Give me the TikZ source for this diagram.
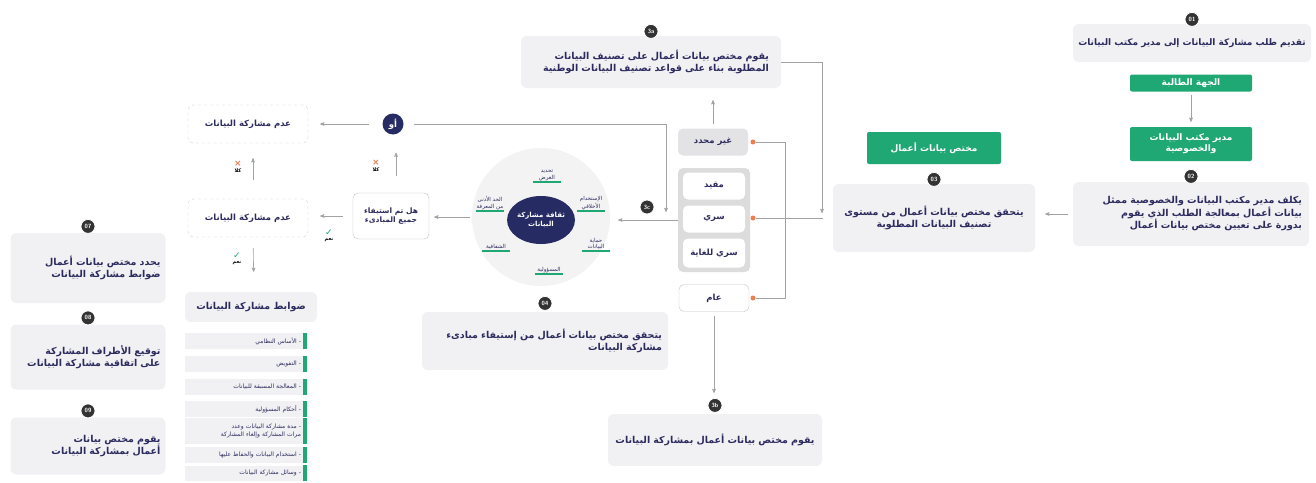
\documentclass[tikz,border=0pt]{standalone}
\usepackage{fontspec}
\usepackage{tikz}
\usetikzlibrary{arrows, positioning, shapes.geometric}
\usepackage{color}
\newfontfamily\arabicfont[Script=Arabic]{DejaVu Sans}
\newfontfamily\symbolfont{DejaVu Sans}
\TeXXeTstate=1
\newcommand{\artext}[1]{\beginR #1\endR}
\definecolor{navy}{HTML}{2C2B5E}
\definecolor{hubnavy}{HTML}{262B64}
\definecolor{boxgray}{HTML}{F1F1F3}
\definecolor{groupgray}{HTML}{DCDCDC}
\definecolor{undefgray}{HTML}{E3E3E5}
\definecolor{ringgray}{HTML}{F3F3F3}
\definecolor{linegray}{HTML}{A3A3A3}
\definecolor{badgegray}{HTML}{333333}
\definecolor{okgreen}{HTML}{1FA774}
\definecolor{dotorange}{HTML}{EC8150}

\begin{document}
\begin{tikzpicture}[->,>=stealth',x=1pt,y=-1pt,
 stepbox/.style={rectangle,rounded corners=6pt,fill=boxgray,text=navy,align=center,inner sep=6pt,
  font=\arabicfont\bfseries\fontsize{9.5}{12.5}\selectfont},
 greenbox/.style={rectangle,rounded corners=2pt,fill=okgreen,text=white,align=center,inner sep=2pt,
  font=\arabicfont\bfseries\fontsize{9}{11}\selectfont},
 badge/.style={circle,fill=badgegray,draw=white,line width=0.8pt,text=white,inner sep=0pt,minimum size=14pt,
  font=\sffamily\bfseries\fontsize{6}{6}\selectfont},
 classbox/.style={rectangle,rounded corners=5pt,minimum width=62pt,minimum height=27pt,inner sep=1pt,text=navy,
  font=\arabicfont\bfseries\fontsize{8.5}{10}\selectfont},
 dashbox/.style={rectangle,rounded corners=5pt,draw=gray!40,dashed,fill=white,minimum width=120pt,minimum height=38pt,
  text=navy,font=\arabicfont\bfseries\fontsize{8.5}{10}\selectfont},
 itembox/.style={rectangle,fill=boxgray,text=navy,align=right,text width=110pt,inner xsep=6pt,inner ysep=1pt,
  minimum height=16pt,font=\arabicfont\fontsize{6}{7.5}\selectfont},
 hublabel/.style={align=center,inner sep=1pt,minimum width=28pt,text=navy,font=\arabicfont\fontsize{5.5}{6.5}\selectfont,
  append after command={(\tikzlastnode.south west) edge[-,draw=okgreen,line width=1.4pt] (\tikzlastnode.south east)}},
 marklabel/.style={align=center,inner sep=0pt,text=black,font=\arabicfont\bfseries\fontsize{5}{5.5}\selectfont},
 dot/.style={circle,fill=dotorange,inner sep=0pt,minimum size=5pt},
 conn/.style={draw=linegray,line width=0.6pt},
 plain/.style={-,draw=linegray,line width=0.6pt}]

 \useasboundingbox[fill=white] (0,0) rectangle (1316,482);

 % steps 01 and 02
 \node[stepbox,text width=238pt,inner xsep=0pt,minimum height=38pt,
  font=\arabicfont\bfseries\fontsize{9}{11}\selectfont] (s01) at (1192,43)
  {\artext{تقديم طلب مشاركة البيانات إلى مدير مكتب البيانات}};
 \node[badge,above=-3pt of s01] (b01) {01};
 \node[greenbox,minimum width=122pt,minimum height=17pt] (req) at (1191,83) {\artext{الجهة الطالبة}};
 \node[greenbox,minimum width=122pt,minimum height=34pt] (dpo) at (1191,144)
  {\artext{مدير مكتب البيانات}\\\artext{والخصوصية}};
 \node[stepbox,text width=222pt,align=right,inner xsep=7pt,minimum height=64pt] (s02) at (1191,214)
  {\artext{يكلف مدير مكتب البيانات والخصوصية ممثل}\\
   \artext{بيانات أعمال بمعالجة الطلب الذي يقوم}\\
   \artext{بدورة على تعيين مختص بيانات أعمال}};
 \node[badge,above=-2pt of s02] (b02) {02};

 % step 03
 \node[greenbox,minimum width=134pt,minimum height=32pt] (analyst) at (934,148) {\artext{مختص بيانات أعمال}};
 \node[stepbox,text width=192pt,inner xsep=5pt,minimum height=68pt] (s03) at (934,218)
  {\artext{يتحقق مختص بيانات أعمال من مستوى}\\\artext{تصنيف البيانات المطلوبة}};
 \node[badge,above=-3pt of s03] (b03) {03};

 % classification levels
 \node[stepbox,text width=236pt,align=right,inner xsep=12pt,minimum height=52pt] (s3a) at (651,62)
  {\artext{يقوم مختص بيانات أعمال على تصنيف البيانات}\\\artext{المطلوبة بناء على قواعد تصنيف البيانات الوطنية}};
 \node[badge,above=-3pt of s3a] (b3a) {3a};
 \node[classbox,fill=undefgray,minimum width=70pt] (undef) at (713,142) {\artext{غير محدد}};
 \node[rectangle,rounded corners=5pt,fill=groupgray,minimum width=72pt,minimum height=104pt] (grp) at (714,220) {};
 \node[classbox,fill=white] (c1) at (714,186) {\artext{مقيد}};
 \node[classbox,fill=white] (c2) at (714,219) {\artext{سري}};
 \node[classbox,fill=white,minimum height=29pt] (c3) at (714,253) {\artext{سري للغاية}};
 \node[classbox,fill=white,draw=gray!45,minimum width=70pt] (pub) at (714,298) {\artext{عام}};
 \node[dot] (d1) at (753,142) {};
 \node[dot] (d2) at (753,218) {};
 \node[dot] (d3) at (753,298) {};
 \coordinate (jx) at (785,0);
 \coordinate (k3a) at (822,213);

 \node[stepbox,text width=206pt,inner xsep=4pt,minimum height=52pt] (s3b) at (715,440)
  {\artext{يقوم مختص بيانات أعمال بمشاركة البيانات}};
 \node[badge,above=1pt of s3b] (b3b) {3b};

 % culture hub
 \node[circle,fill=ringgray,minimum size=138pt] (ring) at (541,217) {};
 \node[ellipse,fill=hubnavy,minimum width=56pt,minimum height=48pt,inner sep=0pt,text=white,align=center,
  font=\arabicfont\bfseries\fontsize{7}{8.5}\selectfont] (hub) at (541,220)
  {\artext{ثقافة مشاركة}\\\artext{البيانات}};
 \node[hublabel,anchor=south] (p1) at (547,182) {\artext{تحديد}\\\artext{الغرض}};
 \node[hublabel,anchor=south] (p2) at (591,211) {\artext{الإستخدام}\\\artext{الأخلاقي}};
 \node[hublabel,anchor=south] (p3) at (596,251) {\artext{حماية}\\\artext{البيانات}};
 \node[hublabel,anchor=south] (p4) at (549,274) {\artext{المسؤولية}};
 \node[hublabel,anchor=south] (p5) at (496,251) {\artext{الشفافية}};
 \node[hublabel,anchor=south] (p6) at (490,211) {\artext{الحد الأدنى}\\\artext{من المعرفة}};
 \node[badge] (b3c) at (647,207) {3c};

 \node[stepbox,text width=234pt,align=right,minimum height=58pt] (s04) at (545,341)
  {\artext{يتحقق مختص بيانات أعمال من إستيفاء مبادىء}\\\artext{مشاركة البيانات}};
 \node[badge,above=1pt of s04] (b04) {04};

 % decision
 \node[rectangle,rounded corners=5pt,fill=white,draw=gray!50,minimum width=76pt,minimum height=46pt,align=center,
  text=navy,font=\arabicfont\bfseries\fontsize{7.5}{9.5}\selectfont] (chk) at (391,216)
  {\artext{هل تم استيفاء}\\\artext{جميع المبادىء}};
 \node[circle,fill=hubnavy,minimum size=21pt,inner sep=0pt,text=white,
  font=\arabicfont\bfseries\fontsize{8.5}{8.5}\selectfont] (orc) at (393,124) {\artext{أو}};
 \node[dashbox] (no1) at (248,124) {\artext{عدم مشاركة البيانات}};
 \node[dashbox] (no2) at (248,218) {\artext{عدم مشاركة البيانات}};
 \node[marklabel] (m1) at (376,166) {{\symbolfont\color{dotorange}\fontsize{9}{9}\selectfont ×}\\\artext{كلا}};
 \node[marklabel] (m2) at (238,167) {{\symbolfont\color{dotorange}\fontsize{9}{9}\selectfont ×}\\\artext{كلا}};
 \node[marklabel] (m3) at (329,236) {{\symbolfont\color{okgreen}\fontsize{9}{9}\selectfont ✓}\\\artext{نعم}};
 \node[marklabel] (m4) at (237,259) {{\symbolfont\color{okgreen}\fontsize{9}{9}\selectfont ✓}\\\artext{نعم}};

 % sharing controls
 \node[stepbox,minimum width=132pt,minimum height=30pt,inner sep=2pt] (rules) at (251,307)
  {\artext{ضوابط مشاركة البيانات}};
 \node[itembox] (r1) at (246,341) {\artext{- الأساس النظامي}};
 \node[itembox] (r2) at (246,364) {\artext{- التفويض}};
 \node[itembox] (r3) at (246,387) {\artext{- المعالجة المسبقة للبيانات}};
 \node[itembox] (r4) at (246,409) {\artext{- أحكام المسؤولية}};
 \node[itembox,minimum height=26pt] (r5) at (246,431)
  {\artext{- مدة مشاركة البيانات وعدد}\\\artext{مرات المشاركة وإلغاء المشاركة}};
 \node[itembox] (r6) at (246,455) {\artext{- استخدام البيانات والحفاظ عليها}};
 \node[itembox,minimum height=15pt] (r7) at (246,473) {\artext{- وسائل مشاركة البيانات}};
 \foreach \i in {1,...,7}
  \fill[-,okgreen] ([xshift=-4pt]r\i.north east) rectangle (r\i.south east);

 % steps 07 to 09
 \node[stepbox,text width=145pt,align=right,inner xsep=5pt,minimum height=70pt] (s07) at (88,268)
  {\artext{يحدد مختص بيانات أعمال}\\\artext{ضوابط مشاركة البيانات}};
 \node[badge,above=-1pt of s07] (b07) {07};
 \node[stepbox,text width=145pt,align=right,inner xsep=5pt,minimum height=65pt] (s08) at (88,357)
  {\artext{توقيع الأطراف المشاركة}\\\artext{على اتفاقية مشاركة البيانات}};
 \node[badge,above=-1pt of s08] (b08) {08};
 \node[stepbox,text width=145pt,align=right,inner xsep=5pt,minimum height=57pt] (s09) at (88,446)
  {\artext{يقوم مختص بيانات}\\\artext{أعمال بمشاركة البيانات}};
 \node[badge,above=-1pt of s09] (b09) {09};

 % connectors
 \draw[conn,shorten <=3pt,shorten >=5pt] (req.south) -- (dpo.north);
 \draw[conn,shorten <=5pt,shorten >=10pt] (s02.west) -- (s02.west -| s03.east);
 \draw[plain,shorten <=10pt] (s03.west) -- (d2);
 \draw[plain] (d1) -- (d1 -| jx) -- (d3 -| jx) -- (d3);
 \draw[conn] (s3a.east) -| (k3a);
 \draw[conn,shorten <=4pt,shorten >=12pt] (undef.north) -- (undef.north |- s3a.south);
 \draw[conn,shorten <=4pt,shorten >=5pt] (pub.south) -- (pub.south |- b3b.north);
 \draw[conn,shorten >=8pt] (grp.west) -- (grp.west -| ring.east);
 \draw[conn,shorten <=2pt,shorten >=5pt] (ring.west) -- (ring.west -| chk.east);
 \draw[conn,shorten <=10pt,shorten >=12pt] (chk.west) -- (chk.west -| no2.east);
 \draw[conn,shorten <=17pt,shorten >=18pt] ([xshift=5pt]chk.north) -- ([xshift=5pt]chk.north |- orc.south);
 \draw[conn,shorten <=13pt,shorten >=12pt] (orc.west) -- (no1.east);
 \draw[conn,shorten <=19pt,shorten >=15pt] ([xshift=5pt]no2.north) -- ([xshift=5pt]no1.south);
 \draw[conn,shorten <=11pt,shorten >=20pt] ([xshift=5pt]no2.south) -- ([xshift=3pt]rules.north);
 \draw[conn,shorten <=10pt] (orc.east) -| (666,212);
\end{tikzpicture}
\end{document}
